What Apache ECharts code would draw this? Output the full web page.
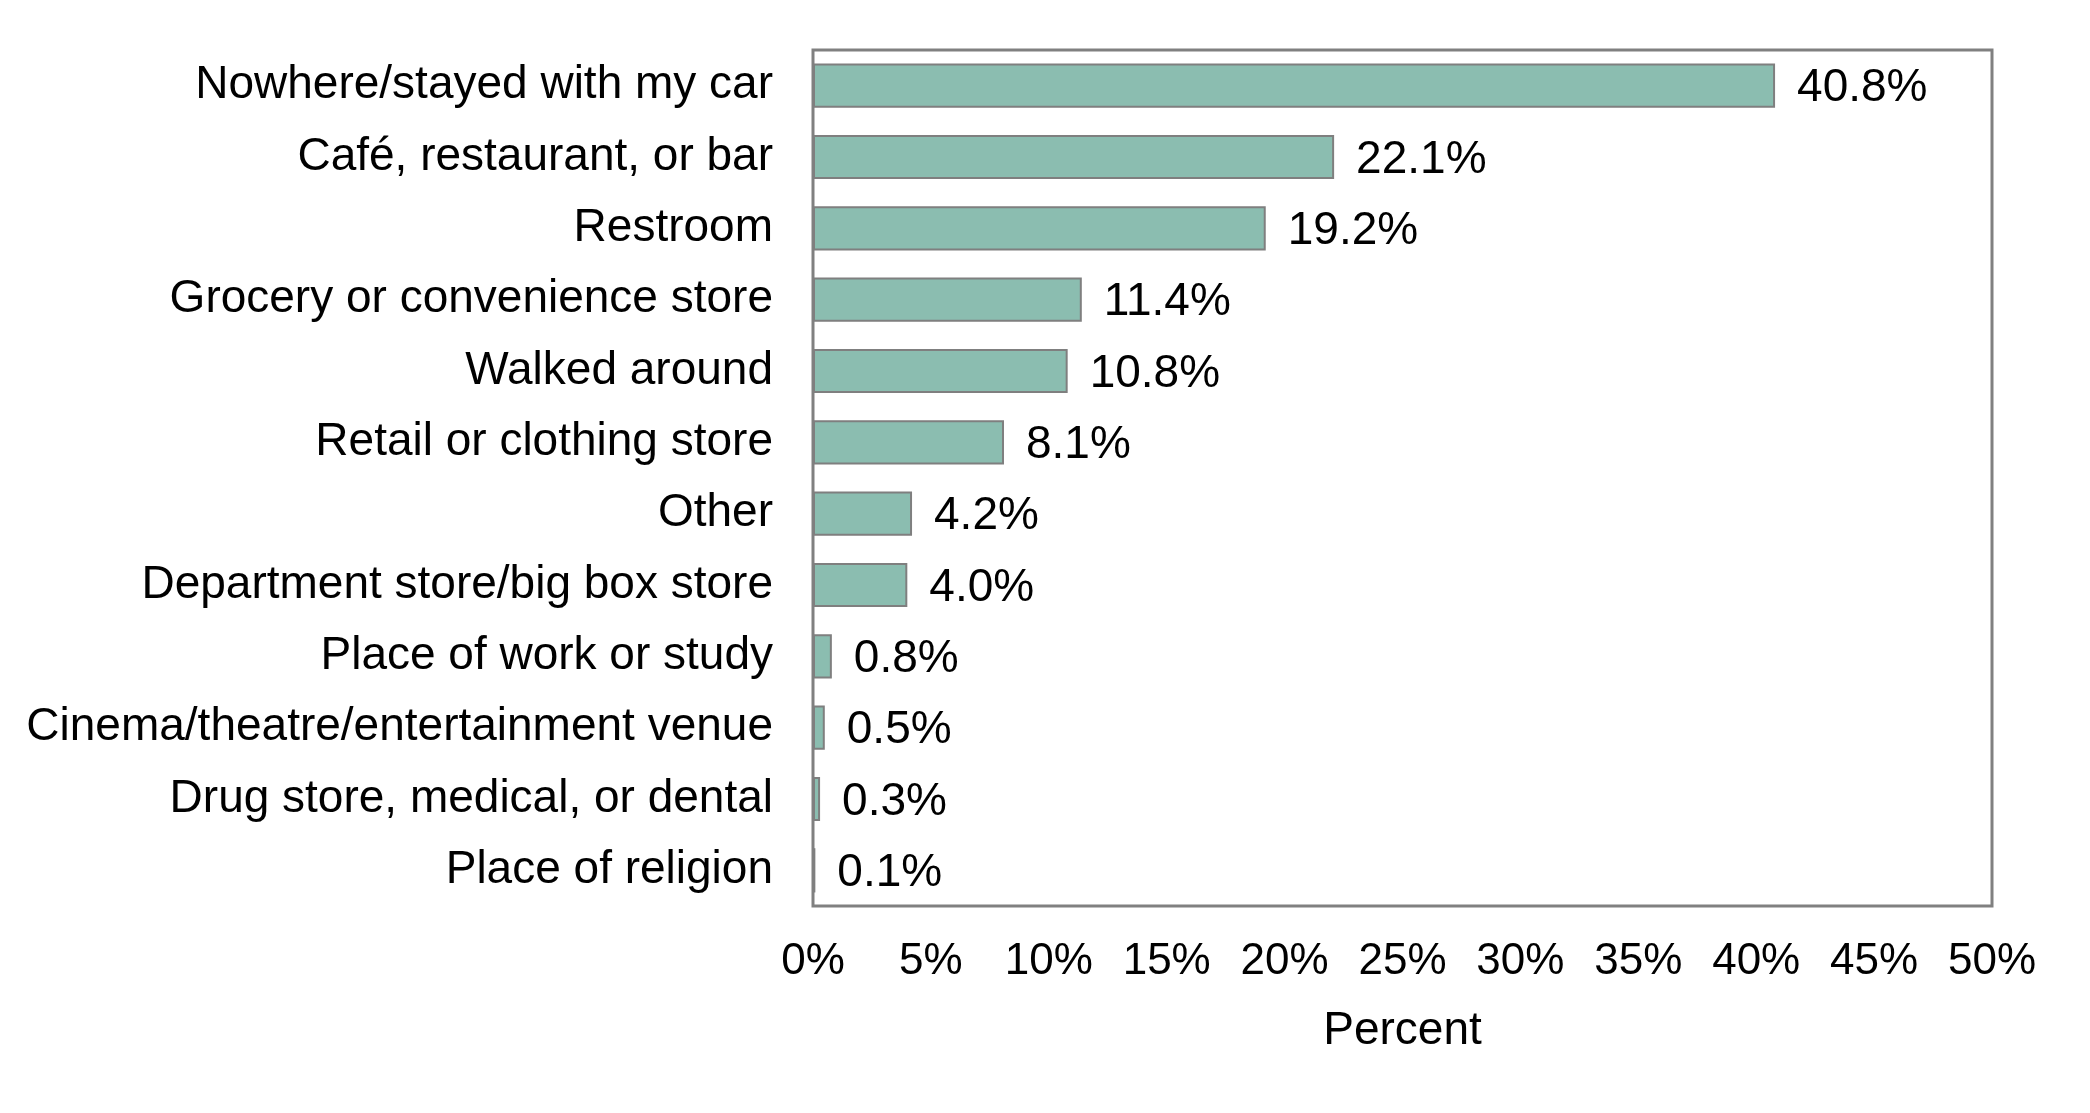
<!DOCTYPE html>
<html>
<head>
<meta charset="utf-8">
<script src="https://cdn.jsdelivr.net/npm/echarts@6/dist/echarts.min.js"></script>
<style>
  html, body { margin: 0; padding: 0; background: #fff; }
  #chart { width: 2090px; height: 1113px; }
</style>
</head>
<body>
<div id="chart"></div>
<script>
  // categories, top to bottom
  const places = [
    'Nowhere/stayed with my car',
    'Café, restaurant, or bar',
    'Restroom',
    'Grocery or convenience store',
    'Walked around',
    'Retail or clothing store',
    'Other',
    'Department store/big box store',
    'Place of work or study',
    'Cinema/theatre/entertainment venue',
    'Drug store, medical, or dental',
    'Place of religion'
  ]
  const percents = [40.8, 22.1, 19.2, 11.4, 10.8, 8.1, 4.2, 4.0, 0.8, 0.5, 0.3, 0.1]
  const xTicks = [0, 5, 10, 15, 20, 25, 30, 35, 40, 45, 50]

  const font = '"Liberation Sans", Arial, Helvetica, sans-serif'

  const chart = echarts.init(document.getElementById('chart'))
  chart.setOption({
    animation: false,
    grid: {
      left: 813, right: 98, top: 50, bottom: 207,
      show: true, borderColor: '#808080', borderWidth: 3,
      containLabel: false
    },
    xAxis: {
      type: 'value',
      min: xTicks[0],
      max: xTicks[xTicks.length - 1],
      interval: 5,
      name: 'Percent',
      nameLocation: 'middle',
      nameGap: 102,
      nameTextStyle: {color: '#000', fontSize: 46, fontFamily: font},
      axisLine: {show: false},
      axisTick: {show: false},
      splitLine: {show: false},
      axisLabel: {
        color: '#000', fontSize: 44, fontFamily: font, margin: 34,
        formatter: v => v + '%'
      }
    },
    yAxis: {
      type: 'category',
      data: places,
      inverse: true,
      axisLine: {show: false},
      axisTick: {show: false},
      splitLine: {show: false},
      axisLabel: {color: '#000', fontSize: 46, fontFamily: font, margin: 40}
    },
    series: [{
      type: 'bar',
      data: percents,
      barCategoryGap: '38%',
      itemStyle: {color: '#8bbdb0', borderColor: '#7f7f7f', borderWidth: 2},
      label: {
        show: true,
        position: 'right',
        distance: 22,
        offset: [0, 3],
        color: '#000',
        fontSize: 46,
        fontFamily: font,
        formatter: p => p.value.toFixed(1) + '%'
      }
    }]
  })
</script>
</body>
</html>
